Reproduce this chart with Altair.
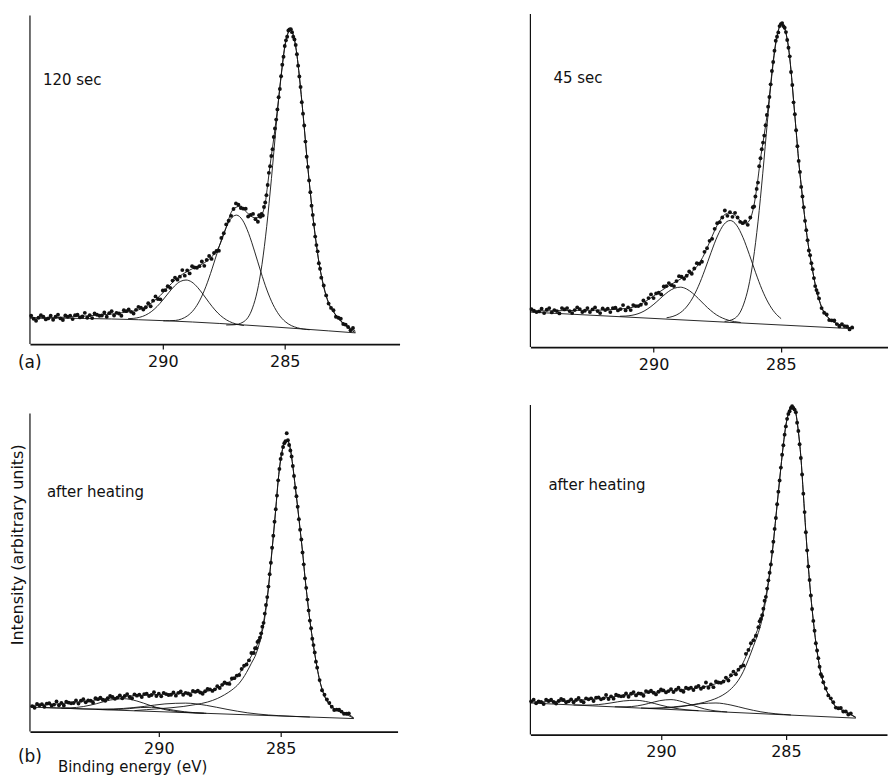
import altair as alt
import pandas as pd

# ---------------- data (binding energy in eV, intensity in arbitrary units) ----------------
energy = [
    295.5, 295.4, 295.3, 295.2, 295.1, 295.0, 294.9, 294.8, 294.7, 294.6,
    294.5, 294.4, 294.3, 294.2, 294.1, 294.0, 293.9, 293.8, 293.7, 293.6,
    293.5, 293.4, 293.3, 293.2, 293.1, 293.0, 292.9, 292.8, 292.7, 292.6,
    292.5, 292.4, 292.3, 292.2, 292.1, 292.0, 291.9, 291.8, 291.7, 291.6,
    291.5, 291.4, 291.3, 291.2, 291.1, 291.0, 290.9, 290.8, 290.7, 290.6,
    290.5, 290.4, 290.3, 290.2, 290.1, 290.0, 289.9, 289.8, 289.7, 289.6,
    289.5, 289.4, 289.3, 289.2, 289.1, 289.0, 288.9, 288.8, 288.7, 288.6,
    288.5, 288.4, 288.3, 288.2, 288.1, 288.0, 287.9, 287.8, 287.7, 287.6,
    287.5, 287.4, 287.3, 287.2, 287.1, 287.0, 286.9, 286.8, 286.7, 286.6,
    286.5, 286.4, 286.3, 286.2, 286.1, 286.05, 286.0, 285.95, 285.9, 285.85,
    285.8, 285.75, 285.7, 285.65, 285.6, 285.55, 285.5, 285.45, 285.4, 285.35,
    285.3, 285.25, 285.2, 285.15, 285.1, 285.05, 285.0, 284.95, 284.9, 284.85,
    284.8, 284.75, 284.7, 284.65, 284.6, 284.55, 284.5, 284.45, 284.4, 284.35,
    284.3, 284.25, 284.2, 284.15, 284.1, 284.05, 284.0, 283.95, 283.9, 283.85,
    283.8, 283.75, 283.7, 283.65, 283.6, 283.55, 283.5, 283.4, 283.3, 283.2,
    283.1, 283.0, 282.9, 282.8, 282.7, 282.6, 282.5, 282.4, 282.3, 282.2,
    282.1,
]

# (a) 120 sec - measured points
a_counts = [
    None, 8.6, 7.7, 7.1, 8.0, 8.8, 8.3, 7.5, 7.8, 8.6,
    7.4, 8.3, 8.9, 7.8, 7.3, 8.7, 8.3, 8.6, 7.6, 8.8,
    8.9, 8.1, 8.4, 9.5, 8.0, 8.8, 7.9, 9.3, 8.9, 8.6,
    8.7, 9.6, 8.3, 9.4, 10.0, 8.7, 9.5, 9.3, 8.6, 10.3,
    10.0, 10.5, 9.8, 9.3, 10.4, 11.3, 11.1, 10.5, 11.2, 12.4,
    11.5, 13.2, 14.5, 13.7, 13.6, 16.3, 16.4, 17.6, 17.1, 19.3,
    20.2, 19.6, 20.5, 22.5, 20.8, 22.4, 21.5, 23.7, 23.3, 23.2,
    23.7, 25.1, 23.8, 25.6, 26.8, 25.9, 27.7, 28.3, 28.4, 32.3,
    33.7, 36.4, 37.5, 39.0, 41.1, 42.8, 42.4, 41.4, 41.2, 41.2,
    38.8, 39.3, 39.6, 38.0, 37.2, 39.2, 38.7, 39.6, 39.1, 41.7,
    43.1, 45.3, 48.4, 52.1, 54.1, 57.2, 59.3, 63.0, 65.6, 68.3,
    71.4, 75.1, 77.6, 81.5, 85.0, 87.4, 90.7, 92.4, 93.5, 95.4,
    95.7, 95.8, 94.9, 93.5, 92.7, 91.0, 88.2, 84.7, 81.4, 78.2,
    73.6, 70.1, 66.5, 61.6, 57.0, 53.9, 49.8, 46.2, 42.1, 39.3,
    36.4, 32.7, 30.1, 28.2, 24.6, 22.9, 20.2, 17.8, 14.8, 12.3,
    11.0, 10.3, 8.3, 8.0, 7.7, 6.1, 5.9, 5.2, 4.2, 4.9,
    None,
]

# (a) 45 sec - measured points
b_counts = [
    None, None, None, None, None, None, None, 11.4, 10.9, 10.5,
    10.7, 11.5, 10.2, 11.2, 11.7, 10.4, 11.1, 10.8, 10.1, 11.7,
    11.3, 11.7, 10.8, 10.2, 11.1, 11.9, 11.4, 10.5, 10.9, 11.7,
    10.5, 11.3, 11.9, 10.8, 10.2, 11.6, 11.1, 11.5, 10.5, 11.7,
    11.8, 11.0, 11.4, 12.6, 11.0, 11.9, 11.1, 12.6, 12.3, 12.3,
    12.7, 14.0, 13.0, 14.7, 15.8, 14.7, 16.1, 16.3, 15.8, 18.2,
    18.3, 19.2, 18.6, 18.3, 19.8, 21.3, 21.1, 20.5, 21.4, 22.7,
    22.0, 23.6, 25.2, 25.0, 25.6, 28.6, 29.7, 31.9, 32.5, 35.5,
    37.2, 37.5, 38.9, 41.0, 39.4, 40.5, 39.1, 40.3, 38.9, 37.6,
    37.2, 37.7, 36.7, 38.9, 42.0, 42.2, 45.2, 47.5, 49.4, 54.3,
    56.7, 59.4, 61.4, 63.5, 66.6, 69.7, 72.2, 75.1, 78.9, 82.9,
    85.6, 89.0, 92.0, 93.2, 94.5, 96.4, 97.0, 97.3, 96.4, 95.9,
    94.6, 92.2, 89.9, 87.3, 82.6, 78.7, 73.5, 69.9, 65.1, 60.3,
    55.9, 52.6, 48.1, 45.2, 42.0, 37.9, 35.1, 32.1, 29.0, 27.6,
    25.2, 23.4, 20.7, 18.3, 17.1, 16.2, 14.6, 11.7, 10.3, 9.8,
    8.1, 8.0, 8.0, 6.9, 6.2, 6.9, 6.3, 6.2, 5.3, 5.9,
    None,
]

# (b) after heating, left
c_counts = [
    None, None, None, 8.0, 7.5, 8.7, 8.3, 8.6, 7.8, 8.8,
    8.9, 8.2, 8.5, 9.5, 8.3, 9.0, 8.2, 9.4, 9.1, 8.9,
    9.0, 9.8, 8.8, 9.7, 10.2, 9.2, 9.8, 9.7, 9.1, 10.5,
    10.2, 10.7, 10.0, 9.7, 10.5, 11.2, 10.9, 10.3, 10.7, 11.4,
    10.5, 11.2, 11.8, 10.9, 10.5, 11.7, 11.3, 11.6, 10.9, 11.8,
    11.9, 11.2, 11.5, 12.4, 11.2, 11.9, 11.1, 12.2, 11.8, 11.5,
    11.6, 12.3, 11.3, 12.2, 12.6, 11.6, 12.2, 12.0, 11.5, 12.8,
    12.5, 12.9, 12.3, 11.9, 12.7, 13.4, 13.3, 12.8, 13.3, 14.3,
    13.7, 14.7, 15.5, 15.1, 15.0, 16.7, 16.8, 17.6, 17.8, 19.7,
    20.7, 21.1, 22.4, 24.7, 24.7, 26.2, 26.2, 28.2, 28.6, 29.5,
    30.9, 33.0, 34.2, 37.1, 39.8, 42.3, 45.6, 49.5, 53.1, 57.8,
    61.6, 66.0, 69.9, 74.2, 79.0, 82.6, 85.7, 87.3, 89.5, 90.7,
    91.3, 93.8, 91.6, 90.1, 88.4, 86.5, 83.5, 80.4, 76.7, 74.0,
    70.7, 66.8, 63.5, 60.4, 56.3, 52.6, 48.2, 45.2, 41.5, 38.1,
    34.9, 32.5, 29.2, 27.2, 24.9, 22.0, 20.1, 16.2, 13.0, 11.6,
    10.1, 9.0, 7.8, 6.8, 6.9, 6.9, 6.3, 5.6, 5.6, 5.7,
    None,
]

# (b) after heating, right
d_counts = [
    None, None, None, 10.1, 10.6, 9.5, 10.1, 9.9, 9.3, 10.6,
    10.2, 10.6, 9.9, 9.4, 10.2, 10.8, 10.5, 9.8, 10.1, 10.7,
    9.8, 10.5, 11.1, 10.2, 9.8, 11.0, 10.7, 11.0, 10.2, 11.2,
    11.3, 10.7, 11.0, 12.0, 10.8, 11.6, 10.9, 12.1, 11.8, 11.6,
    11.7, 12.5, 11.5, 12.4, 12.9, 11.9, 12.5, 12.4, 11.8, 13.2,
    12.9, 13.3, 12.7, 12.2, 13.0, 13.7, 13.4, 12.8, 13.2, 13.8,
    12.9, 13.6, 14.2, 13.4, 13.0, 14.2, 13.9, 14.2, 13.5, 14.4,
    14.8, 13.9, 14.4, 15.8, 14.2, 15.2, 14.4, 16.1, 15.8, 15.7,
    16.1, 17.3, 16.4, 18.0, 19.1, 18.3, 19.7, 20.6, 21.0, 24.5,
    25.7, 27.7, 28.6, 30.0, 32.6, 34.4, 35.1, 36.2, 38.2, 40.6,
    41.8, 44.3, 46.8, 49.1, 51.6, 55.5, 58.5, 62.4, 65.7, 69.9,
    73.7, 77.1, 81.0, 84.9, 87.8, 91.0, 93.5, 95.8, 97.3, 98.1,
    99.1, 99.6, 99.1, 98.6, 97.8, 94.6, 92.1, 88.1, 83.9, 78.9,
    73.1, 67.5, 61.4, 55.9, 51.0, 46.9, 42.2, 38.1, 34.5, 31.5,
    27.7, 25.5, 23.2, 20.6, 18.3, 17.6, 15.9, 14.0, 11.9, 11.0,
    9.8, 8.2, 8.0, 8.1, 7.0, 7.0, 6.1, 6.4, None, None,
    None,
]

# fitted curves, (E, I) pairs
a_fit = [(295.45, 7.9), (295.0, 7.9), (294.5, 8.0), (294.0, 8.2), (293.5, 8.4), (293.0, 8.6),
         (292.5, 8.9), (292.0, 9.2), (291.5, 9.7), (291.0, 10.4), (290.7, 11.3), (290.4, 12.9),
         (290.1, 14.8), (289.8, 17.2), (289.5, 19.5), (289.2, 21.2), (288.9, 22.5), (288.6, 23.6),
         (288.3, 24.7), (288.0, 26.5), (287.7, 29.6), (287.4, 35.5), (287.2, 40.0), (287.0, 41.6),
         (286.8, 42.0), (286.6, 40.4), (286.4, 39.0), (286.2, 38.4), (286.0, 38.7), (285.9, 40.0),
         (285.8, 42.8), (285.7, 48.5), (285.6, 54.5), (285.5, 59.8), (285.4, 65.5), (285.3, 71.5),
         (285.2, 78.0), (285.1, 84.5), (285.0, 90.6), (284.9, 94.0), (284.8, 95.5), (284.7, 95.0),
         (284.6, 92.6), (284.5, 88.0), (284.4, 81.5), (284.3, 74.0), (284.2, 66.0), (284.1, 57.5),
         (284.0, 49.8), (283.9, 42.5), (283.8, 36.0), (283.7, 30.2), (283.6, 25.0), (283.5, 21.0),
         (283.4, 17.6), (283.3, 14.8), (283.2, 12.6), (283.0, 9.9), (282.8, 7.8), (282.6, 6.4),
         (282.4, 5.3), (282.1, 3.9)]
a_baseline = [(295.45, 8.0), (291.0, 7.4), (282.1, 3.4)]
a_peak1 = [(291.425, 7.72), (291.1875, 7.83), (290.95, 8.14), (290.7125, 8.78), (290.475, 9.85),
           (290.2375, 11.41), (290.0, 13.4), (289.7625, 15.6), (289.525, 17.62), (289.2875, 19.03),
           (289.05, 19.48), (288.8125, 18.87), (288.575, 17.24), (288.3375, 15.01), (288.1, 12.6),
           (287.8625, 10.39), (287.625, 8.62), (287.3875, 7.34), (287.15, 6.48), (286.9125, 5.96),
           (286.675, 5.63)]
a_peak2 = [(289.98, 7.05), (289.48, 7.19), (289.23, 7.64), (288.98, 8.63), (288.73, 10.43),
           (288.48, 13.36), (288.23, 17.56), (287.98, 22.88), (287.73, 28.71), (287.48, 34.1),
           (287.23, 37.92), (286.98, 39.23), (286.73, 37.7), (286.48, 33.66), (286.23, 28.04),
           (285.98, 21.98), (285.73, 16.44), (285.48, 12.02), (285.23, 8.87), (284.98, 6.83),
           (284.73, 5.62), (284.48, 4.95), (283.98, 4.35)]
a_peak3 = [(287.4, 5.8), (287.095, 5.85), (286.7075, 6.68), (286.32, 11.0), (286.126, 16.1),
           (285.9325, 24.23), (285.739, 35.8), (285.545, 50.37), (285.351, 66.36), (285.1575, 81.14),
           (284.964, 91.66), (284.77, 95.42), (284.6, 92.6), (284.5, 88.0), (284.4, 81.5),
           (284.3, 74.0), (284.2, 66.0), (284.1, 57.5), (284.0, 49.8), (283.9, 42.5), (283.8, 36.0),
           (283.7, 30.2), (283.6, 25.0), (283.5, 20.8), (283.4, 17.3), (283.3, 14.6), (283.2, 12.4),
           (283.0, 9.8), (282.8, 7.7), (282.6, 6.2), (282.4, 5.0), (282.2, 3.9), (282.1, 3.5)]

b_fit = [(294.84, 10.8), (294.0, 10.9), (293.0, 11.0), (292.0, 11.1), (291.5, 11.3), (291.0, 11.7),
         (290.7, 12.2), (290.4, 13.3), (290.1, 14.8), (289.8, 16.4), (289.5, 17.9), (289.2, 19.3),
         (288.9, 20.6), (288.6, 22.0), (288.3, 24.2), (288.0, 28.0), (287.8, 31.5), (287.6, 35.0),
         (287.4, 38.0), (287.2, 39.8), (287.0, 40.3), (286.8, 39.6), (286.6, 38.0), (286.4, 37.0),
         (286.2, 38.5), (286.1, 41.0), (286.0, 45.0), (285.9, 50.5), (285.8, 56.5), (285.7, 61.5),
         (285.6, 66.5), (285.5, 72.0), (285.4, 79.0), (285.3, 86.0), (285.2, 91.5), (285.1, 95.0),
         (285.0, 97.0), (284.9, 96.8), (284.8, 94.3), (284.7, 90.0), (284.6, 83.0), (284.5, 74.0),
         (284.4, 65.0), (284.3, 56.0), (284.2, 48.5), (284.1, 41.5), (284.0, 35.0), (283.9, 29.5),
         (283.8, 25.0), (283.7, 20.8), (283.6, 17.0), (283.5, 14.3), (283.4, 12.0), (283.3, 10.4),
         (283.1, 8.5), (282.9, 7.4), (282.6, 6.5), (282.15, 5.6)]
b_baseline = [(294.84, 10.5), (282.15, 5.5)]
b_peak1 = [(291.325, 9.24), (291.0875, 9.31), (290.85, 9.54), (290.6125, 10.0), (290.375, 10.8),
           (290.1375, 11.97), (289.9, 13.45), (289.6625, 15.1), (289.425, 16.61), (289.1875, 17.65),
           (288.95, 17.98), (288.7125, 17.47), (288.475, 16.23), (288.2375, 14.54), (288.0, 12.7),
           (287.7625, 11.03), (287.525, 9.65), (287.2875, 8.69), (287.05, 8.03), (286.8125, 7.63),
           (286.575, 7.37)]
b_peak2 = [(289.49, 8.79), (289.24, 9.21), (288.99, 10.1), (288.74, 11.76), (288.49, 14.43),
           (288.24, 18.26), (287.99, 23.1), (287.74, 28.43), (287.49, 33.34), (287.24, 36.81),
           (286.99, 38.01), (286.74, 36.61), (286.49, 32.94), (286.24, 27.83), (285.99, 22.31),
           (285.74, 17.27), (285.49, 13.25), (285.24, 10.38), (284.99, 8.53)]
b_peak3 = [(287.21, 7.7), (286.835, 8.5), (286.46, 12.9), (286.2725, 18.0), (286.085, 26.1),
           (285.8975, 37.6), (285.71, 52.2), (285.5225, 68.2), (285.335, 82.9), (285.1475, 93.4),
           (284.96, 97.2), (284.9, 96.8), (284.8, 94.3), (284.7, 90.0), (284.6, 83.0), (284.5, 74.0),
           (284.4, 65.0), (284.3, 56.0), (284.2, 48.5), (284.1, 41.5), (284.0, 35.0), (283.9, 29.5),
           (283.8, 25.0), (283.7, 20.8), (283.6, 17.0), (283.5, 14.3), (283.4, 12.0), (283.3, 10.4),
           (283.1, 8.5), (282.9, 7.4), (282.6, 6.5), (282.15, 5.5)]

c_fit = [(295.25, 8.2), (294.5, 8.5), (294.0, 8.8), (293.5, 9.2), (293.0, 9.6), (292.5, 10.0),
         (292.0, 10.5), (291.5, 11.0), (291.0, 11.3), (290.5, 11.5), (290.0, 11.7), (289.5, 11.8),
         (289.0, 12.0), (288.5, 12.3), (288.0, 12.7), (287.7, 13.4), (287.4, 14.5), (287.1, 15.7),
         (286.8, 17.4), (286.5, 20.3), (286.3, 22.5), (286.1, 25.2), (285.9, 28.5), (285.8, 31.0),
         (285.7, 34.5), (285.6, 39.5), (285.5, 45.5), (285.4, 53.5), (285.3, 61.5), (285.2, 70.0),
         (285.1, 79.0), (285.0, 85.5), (284.9, 89.5), (284.8, 91.5), (284.7, 91.3), (284.6, 88.8),
         (284.5, 83.5), (284.4, 77.0), (284.3, 70.5), (284.2, 63.5), (284.1, 56.5), (284.0, 48.5),
         (283.9, 41.5), (283.8, 35.0), (283.7, 29.5), (283.6, 24.5), (283.5, 20.0), (283.4, 16.2),
         (283.3, 13.4), (283.2, 11.2), (283.0, 8.6), (282.8, 7.2), (282.5, 6.1), (282.2, 5.4),
         (282.0, 4.3)]
c_baseline = [(295.25, 7.7), (282.0, 4.1)]
c_main = [(291.0, 6.6), (290.5, 6.9), (290.0, 7.2), (289.5, 7.5), (289.0, 7.9), (288.5, 8.5),
          (288.0, 9.3), (287.6, 10.4), (287.3, 11.6), (287.0, 13.1), (286.7, 15.2), (286.4, 18.6),
          (286.2, 21.5), (286.0, 24.6), (285.9, 27.0), (285.8, 29.8), (285.7, 33.5), (285.6, 38.5),
          (285.5, 45.0), (285.4, 53.0), (285.3, 61.3), (285.2, 70.0), (285.1, 79.0), (285.0, 85.5),
          (284.9, 89.5), (284.8, 91.5), (284.7, 91.3), (284.6, 88.8), (284.5, 83.5), (284.4, 77.0),
          (284.3, 70.5), (284.2, 63.5), (284.1, 56.5), (284.0, 48.5), (283.9, 41.5), (283.8, 35.0),
          (283.7, 29.5), (283.6, 24.5), (283.5, 20.0), (283.4, 16.2), (283.3, 13.4), (283.2, 11.2),
          (283.0, 8.6), (282.8, 7.2), (282.5, 6.0), (282.2, 5.0), (282.0, 4.2)]
c_peak1 = [(294.75, 7.56), (294.2, 7.45), (293.65, 7.48), (293.1, 7.88), (292.55, 8.8), (292.0, 9.92),
           (291.45, 10.36), (290.9, 9.62), (290.35, 8.21), (289.8, 6.99), (289.25, 6.29),
           (288.7, 5.96), (288.15, 5.77)]
c_peak2 = [(292.55, 6.97), (292.1, 6.91), (291.65, 6.98), (291.2, 7.24), (290.75, 7.56), (290.3, 7.64),
           (289.85, 7.31), (289.4, 6.75), (288.95, 6.25), (288.5, 5.93), (288.05, 5.75)]
c_peak3 = [(294.0, 7.36), (293.15, 7.16), (292.3, 7.08), (291.45, 7.29), (290.6, 7.92), (289.75, 8.71),
           (288.9, 8.96), (288.05, 8.25), (287.2, 7.0), (286.35, 5.9), (285.5, 5.23), (284.65, 4.85),
           (283.8, 4.58)]

d_fit = [(295.2, 9.9), (294.5, 10.0), (294.0, 10.1), (293.5, 10.3), (293.0, 10.6), (292.5, 10.9),
         (292.0, 11.4), (291.5, 11.9), (291.0, 12.3), (290.5, 12.7), (290.0, 13.0), (289.5, 13.4),
         (289.0, 13.8), (288.5, 14.2), (288.0, 15.0), (287.7, 15.7), (287.4, 16.6), (287.1, 18.2),
         (286.9, 19.5), (286.7, 22.0), (286.5, 25.5), (286.3, 28.8), (286.1, 32.5), (286.0, 34.8),
         (285.9, 38.3), (285.8, 42.0), (285.7, 46.5), (285.6, 52.0), (285.5, 58.5), (285.4, 66.0),
         (285.3, 73.5), (285.2, 81.0), (285.1, 88.0), (285.0, 93.8), (284.9, 97.3), (284.8, 99.2),
         (284.7, 99.4), (284.6, 97.5), (284.5, 92.0), (284.4, 84.3), (284.3, 73.0), (284.2, 61.5),
         (284.1, 51.0), (284.0, 42.0), (283.9, 34.5), (283.8, 28.0), (283.7, 22.8), (283.6, 18.7),
         (283.5, 15.9), (283.4, 13.8), (283.3, 12.2), (283.2, 10.8), (283.1, 9.5), (283.0, 8.4),
         (282.8, 7.6), (282.6, 6.9), (282.4, 6.1), (282.2, 5.3)]
d_baseline = [(295.25, 9.6), (282.2, 5.0)]
d_main = [(290.5, 7.9), (290.0, 8.1), (289.5, 8.4), (289.0, 8.8), (288.5, 9.4), (288.0, 10.4),
          (287.7, 11.3), (287.4, 12.6), (287.1, 14.6), (286.9, 16.5), (286.7, 19.2), (286.5, 22.8),
          (286.3, 26.8), (286.1, 31.0), (286.0, 33.5), (285.9, 37.0), (285.8, 41.0), (285.7, 45.8),
          (285.6, 51.5), (285.5, 58.2), (285.4, 66.0), (285.3, 73.5), (285.2, 81.0), (285.1, 88.0),
          (285.0, 93.8), (284.9, 97.3), (284.8, 99.2), (284.7, 99.4), (284.6, 97.5), (284.5, 92.0),
          (284.4, 84.3), (284.3, 73.0), (284.2, 61.5), (284.1, 51.0), (284.0, 42.0), (283.9, 34.5),
          (283.8, 28.0), (283.7, 22.8), (283.6, 18.7), (283.5, 15.9), (283.4, 13.8), (283.3, 12.2),
          (283.2, 10.8), (283.1, 9.5), (283.0, 8.4), (282.8, 7.6), (282.6, 6.9), (282.4, 6.1),
          (282.2, 5.1)]
d_peak1 = [(293.5, 9.01), (293.0, 8.95), (292.5, 9.11), (292.0, 9.61), (291.5, 10.21), (291.0, 10.41),
           (290.5, 9.87), (290.0, 8.91), (289.5, 8.07), (289.0, 7.55), (288.5, 7.27)]
d_peak2 = [(291.85, 8.45), (291.4, 8.44), (290.95, 8.72), (290.5, 9.44), (290.05, 10.3), (289.6, 10.62),
           (289.15, 9.98), (288.7, 8.81), (288.25, 7.78), (287.8, 7.18), (287.35, 6.88)]
d_peak3 = [(290.8, 8.07), (290.2, 7.99), (289.6, 8.17), (289.0, 8.71), (288.4, 9.39), (287.8, 9.59),
           (287.2, 8.97), (286.6, 7.87), (286.0, 6.91), (285.4, 6.32), (284.8, 5.98)]

tick_values = [290, 285]

# ---------------- styling ----------------
INK = "#111111"
FONT = "DejaVu Sans"


def curves_frame(curves):
    rows = []
    for name, pts in curves.items():
        for e, i in pts:
            rows.append({"E": e, "I": i, "curve": name})
    return pd.DataFrame(rows)


def text_layer(txt, x, y, size, angle=0, align="left", baseline="alphabetic"):
    return alt.Chart(pd.DataFrame({"t": [txt]})).mark_text(
        align=align, baseline=baseline, fontSize=size, font=FONT, color=INK, angle=angle
    ).encode(x=alt.value(x), y=alt.value(y), text="t:N")


def panel(counts, curves, xdom, ytop, w, h, texts, anchors=()):
    xs = alt.Scale(domain=xdom, reverse=True, nice=False, zero=False)
    ys = alt.Scale(domain=[0, ytop], nice=False, zero=False)
    xaxis = alt.Axis(values=tick_values, format="d", grid=False, domainColor=INK, domainWidth=1.8,
                     tickColor=INK, tickWidth=1.2, tickSize=5, labelColor=INK, labelFont=FONT,
                     labelFontSize=16, labelPadding=4, title=None)
    xenc = alt.X("E:Q", scale=xs, axis=xaxis)
    yenc = alt.Y("I:Q", scale=ys, axis=None)
    pts = pd.DataFrame({"E": energy, "I": counts}).dropna()
    lines = alt.Chart(curves_frame(curves)).mark_line(
        color=INK, strokeWidth=0.9, interpolate="monotone"
    ).encode(x=xenc, y=yenc, detail="curve:N")
    dots = alt.Chart(pts).mark_circle(color=INK, size=15, opacity=1).encode(x=xenc, y=yenc)
    yline = alt.Chart(pd.DataFrame({"I": [0], "I2": [100]})).mark_rule(
        color=INK, strokeWidth=1.2
    ).encode(x=alt.value(0), y=yenc, y2="I2:Q")
    layers = [lines, dots, yline] + [text_layer(*t) for t in texts] + list(anchors)
    return alt.layer(*layers).properties(width=w, height=h)


# invisible anchors that pin the layout origin
left_anchor = alt.Chart(pd.DataFrame({"a": [0]})).mark_rule(strokeOpacity=0, strokeWidth=1).encode(
    x=alt.value(-29.5), y=alt.value(0), y2=alt.value(4))
top_anchor = alt.Chart(pd.DataFrame({"a": [0]})).mark_rule(strokeOpacity=0, strokeWidth=1).encode(
    x=alt.value(10), x2=alt.value(14), y=alt.value(-12.5))

pA = panel(a_counts,
           {"fit": a_fit, "base": a_baseline, "p1": a_peak1, "p2": a_peak2, "p3": a_peak3},
           [280.29, 295.45], 100.6, 370, 331,
           [("120 sec", 13, 72, 15), ("(a)", -12, 355, 17)], [top_anchor])
pB = panel(b_counts,
           {"fit": b_fit, "base": b_baseline, "p1": b_peak1, "p2": b_peak2, "p3": b_peak3},
           [280.79, 294.84], 100.2, 358, 334,
           [("45 sec", 23, 70, 15)])
pC = panel(c_counts,
           {"fit": c_fit, "base": c_baseline, "main": c_main, "p1": c_peak1, "p2": c_peak2,
            "p3": c_peak3},
           [280.2, 295.29], 102.7, 368, 327,
           [("after heating", 17, 92, 15), ("(b)", -12, 357, 17),
            ("Binding energy (eV)", 28, 367, 15),
            ("Intensity (arbitrary units)", -11.5, 140, 16, 270, "center", "middle")],
           [left_anchor])
pD = panel(d_counts,
           {"fit": d_fit, "base": d_baseline, "main": d_main, "p1": d_peak1, "p2": d_peak2,
            "p3": d_peak3},
           [280.95, 295.23], 100.0, 357, 330,
           [("after heating", 18, 85, 15)])

chart = (
    alt.concat(pA, pB, pC, pD, columns=2, spacing={"row": 58, "column": 131}, bounds="flush")
    .properties(padding=0, background="white")
    .configure_view(stroke=None)
)

chart.save("out.html", embed_options={"renderer": "svg", "actions": False})
